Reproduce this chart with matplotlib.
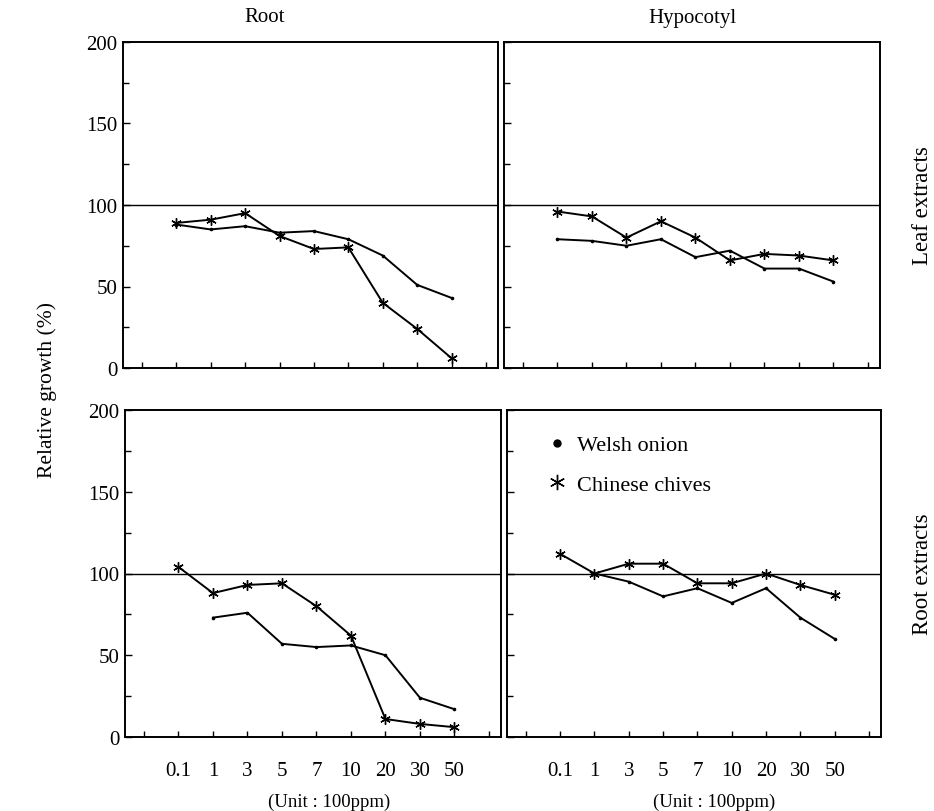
import numpy as np
import matplotlib
matplotlib.use("Agg")
import matplotlib.pyplot as plt
from matplotlib.lines import Line2D
from matplotlib.ticker import MultipleLocator

plt.rcParams["font.family"] = ["Liberation Serif", "DejaVu Serif"]

# ── DATA ──────────────────────────────────────────────────────────────────────
conc_labels = ["0.1", "1", "3", "5", "7", "10", "20", "30", "50"]

leaf_root_welsh   = [88, 85, 87, 83, 84, 79, 69, 51, 43]
leaf_root_chives  = [89, 91, 95, 81, 73, 74, 40, 24, 6]
leaf_hypo_welsh   = [79, 78, 75, 79, 68, 72, 61, 61, 53]
leaf_hypo_chives  = [96, 93, 80, 90, 80, 66, 70, 69, 66]
root_root_welsh   = [np.nan, 73, 76, 57, 55, 56, 50, 24, 17]
root_root_chives  = [104, 88, 93, 94, 80, 62, 11, 8, 6]
root_hypo_welsh   = [np.nan, 100, 95, 86, 91, 82, 91, 73, 60]
root_hypo_chives  = [112, 100, 106, 106, 94, 94, 100, 93, 87]

# ── FIGURE ────────────────────────────────────────────────────────────────────
W, H = 934, 812
fig = plt.figure(figsize=(W / 100, H / 100), dpi=100)
fig.patch.set_facecolor("white")


def px_axes(x0, y0, x1, y1):
    # pixel box (top-left origin) -> figure axes
    return fig.add_axes([x0 / W, 1 - y1 / H, (x1 - x0) / W, (y1 - y0) / H])


ax_tl = px_axes(123, 43, 498, 369)
ax_tr = px_axes(504, 43, 880, 369)
ax_bl = px_axes(125, 411, 501, 738)
ax_br = px_axes(507, 411, 881, 738)

ASTER = (6, 2, 0)
xpos = np.arange(1, len(conc_labels) + 1)

panels = [
    (ax_tl, leaf_root_welsh, leaf_root_chives),
    (ax_tr, leaf_hypo_welsh, leaf_hypo_chives),
    (ax_bl, root_root_welsh, root_root_chives),
    (ax_br, root_hypo_welsh, root_hypo_chives),
]

for ax, welsh, chives in panels:
    ax.axhline(100, color="black", linewidth=1.0, zorder=1)
    ax.plot(xpos, welsh, color="black", linewidth=1.4,
            marker="o", markersize=1.6, zorder=2)
    ax.plot(xpos, chives, color="black", linewidth=1.4,
            marker=ASTER, markersize=7.5, markeredgewidth=1.0, zorder=3)

    ax.set_xlim(-0.55, 10.35)
    ax.set_ylim(0, 200)
    ax.set_xticks(np.arange(0, 11))
    ax.yaxis.set_major_locator(MultipleLocator(50))
    ax.yaxis.set_minor_locator(MultipleLocator(25))
    ax.tick_params(axis="both", which="both", direction="in",
                   top=False, right=False, labelsize=15)
    ax.tick_params(axis="y", which="major", length=5, width=1.0, pad=4)
    ax.tick_params(axis="y", which="minor", length=4, width=1.0)
    ax.tick_params(axis="x", length=4, width=1.0, pad=17)
    for s in ax.spines.values():
        s.set_linewidth(1.4)

for ax in (ax_tl, ax_tr):
    ax.set_xticklabels([])
for ax in (ax_bl, ax_br):
    ax.set_xticklabels([""] + conc_labels + [""])
for ax in (ax_tr, ax_br):
    ax.set_yticklabels([])

# ── LEGEND ────────────────────────────────────────────────────────────────────
handles = [
    Line2D([], [], color="black", linestyle="none", marker="o",
           markersize=5, label="Welsh onion"),
    Line2D([], [], color="black", linestyle="none", marker=ASTER,
           markersize=11, markeredgewidth=1.0, label="Chinese chives"),
]
ax_br.legend(handles=handles, loc="upper left", frameon=False, fontsize=16,
             handlelength=1.0, handletextpad=0.4, labelspacing=0.85,
             bbox_to_anchor=(0.05, 0.985))

# ── TEXT ──────────────────────────────────────────────────────────────────────
fig.text(265 / W, 1 - 18 / H, "Root", ha="center", va="center", fontsize=15)
fig.text(692 / W, 1 - 18 / H, "Hypocotyl", ha="center", va="center", fontsize=15)
fig.text(922 / W, 1 - 206 / H, "Leaf extracts", rotation=90,
         ha="center", va="center", fontsize=16.5)
fig.text(922 / W, 1 - 574 / H, "Root extracts", rotation=90,
         ha="center", va="center", fontsize=16.5)
fig.text(47 / W, 1 - 390 / H, "Relative growth (%)", rotation=90,
         ha="center", va="center", fontsize=15.5)
fig.text(329 / W, 1 - 802 / H, "(Unit : 100ppm)", ha="center", va="center",
         fontsize=13.5)
fig.text(714 / W, 1 - 802 / H, "(Unit : 100ppm)", ha="center", va="center",
         fontsize=13.5)

fig.savefig("out.png", dpi=100, facecolor="white")
